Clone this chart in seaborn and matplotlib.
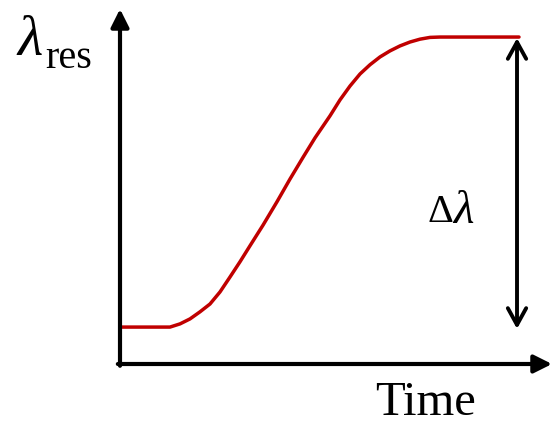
import pandas as pd
import seaborn as sns
import matplotlib.pyplot as plt

# Curve values (time in arbitrary units, normalised resonance shift)
time = [0.0, 1.157, 1.389, 1.620, 1.852, 2.083, 2.315, 2.546, 2.778, 3.009,
        3.310, 3.634, 3.935, 4.236, 4.514, 4.861, 5.093, 5.324, 5.556, 5.787,
        6.019, 6.250, 6.481, 6.713, 6.944, 7.176, 7.407, 9.236]
lam_res = [0.104, 0.104, 0.113, 0.127, 0.147, 0.169, 0.203, 0.245, 0.288, 0.333,
           0.391, 0.457, 0.521, 0.582, 0.637, 0.699, 0.744, 0.783, 0.817, 0.843,
           0.865, 0.882, 0.896, 0.907, 0.915, 0.920, 0.921, 0.921]

# Span of the shift arrow
delta_x = 9.19
delta_low = 0.099
delta_high = 0.918

sns.set_theme(style="white")
plt.rcParams["font.family"] = ["Liberation Serif", "DejaVu Serif"]
plt.rcParams["text.color"] = "black"

df = pd.DataFrame({"time": time, "lam": lam_res})

fig = plt.figure(figsize=(5.52, 4.27), dpi=100)
ax = fig.add_axes([120 / 552, 62 / 427, 432 / 552, 355 / 427])

sns.lineplot(data=df, x="time", y="lam", ax=ax, color="#c00000", linewidth=2.5)

ax.set_xlim(0, 10)
ax.set_ylim(0, 1)
ax.set_xticks([])
ax.set_yticks([])
ax.set_xlabel("")
ax.set_ylabel("")
for s in ax.spines.values():
    s.set_visible(False)

# Axes drawn as arrows
arrow = dict(arrowstyle="-|>,head_length=0.9,head_width=0.45", color="black",
             lw=3, shrinkA=0, shrinkB=0)
ax.annotate("", xy=(0, 1), xytext=(0, -0.005), xycoords="axes fraction",
            arrowprops=arrow, annotation_clip=False)
ax.annotate("", xy=(1.0, 0), xytext=(-0.005, 0), xycoords="axes fraction",
            arrowprops=arrow, annotation_clip=False)

# Double arrow for the shift
ax.annotate("", xy=(delta_x, delta_high), xytext=(delta_x, delta_low),
            arrowprops=dict(arrowstyle="<->,head_length=1.0,head_width=0.55",
                            color="black", lw=2.8, shrinkA=0, shrinkB=0))

fig.text(17 / 552, 1 - 41 / 427, "λ", fontsize=42, style="italic",
         ha="left", va="center")
fig.text(45 / 552, 1 - 59 / 427, "res", fontsize=29, ha="left", va="center")
fig.text(453 / 552, 1 - 213 / 427, "Δ", fontsize=29, ha="right", va="center")
fig.text(453 / 552, 1 - 212 / 427, "λ", fontsize=34, style="italic",
         ha="left", va="center")
fig.text(425 / 552, 1 - 403 / 427, "Time", fontsize=35, ha="center", va="center")

fig.savefig("out.png", dpi=100)
